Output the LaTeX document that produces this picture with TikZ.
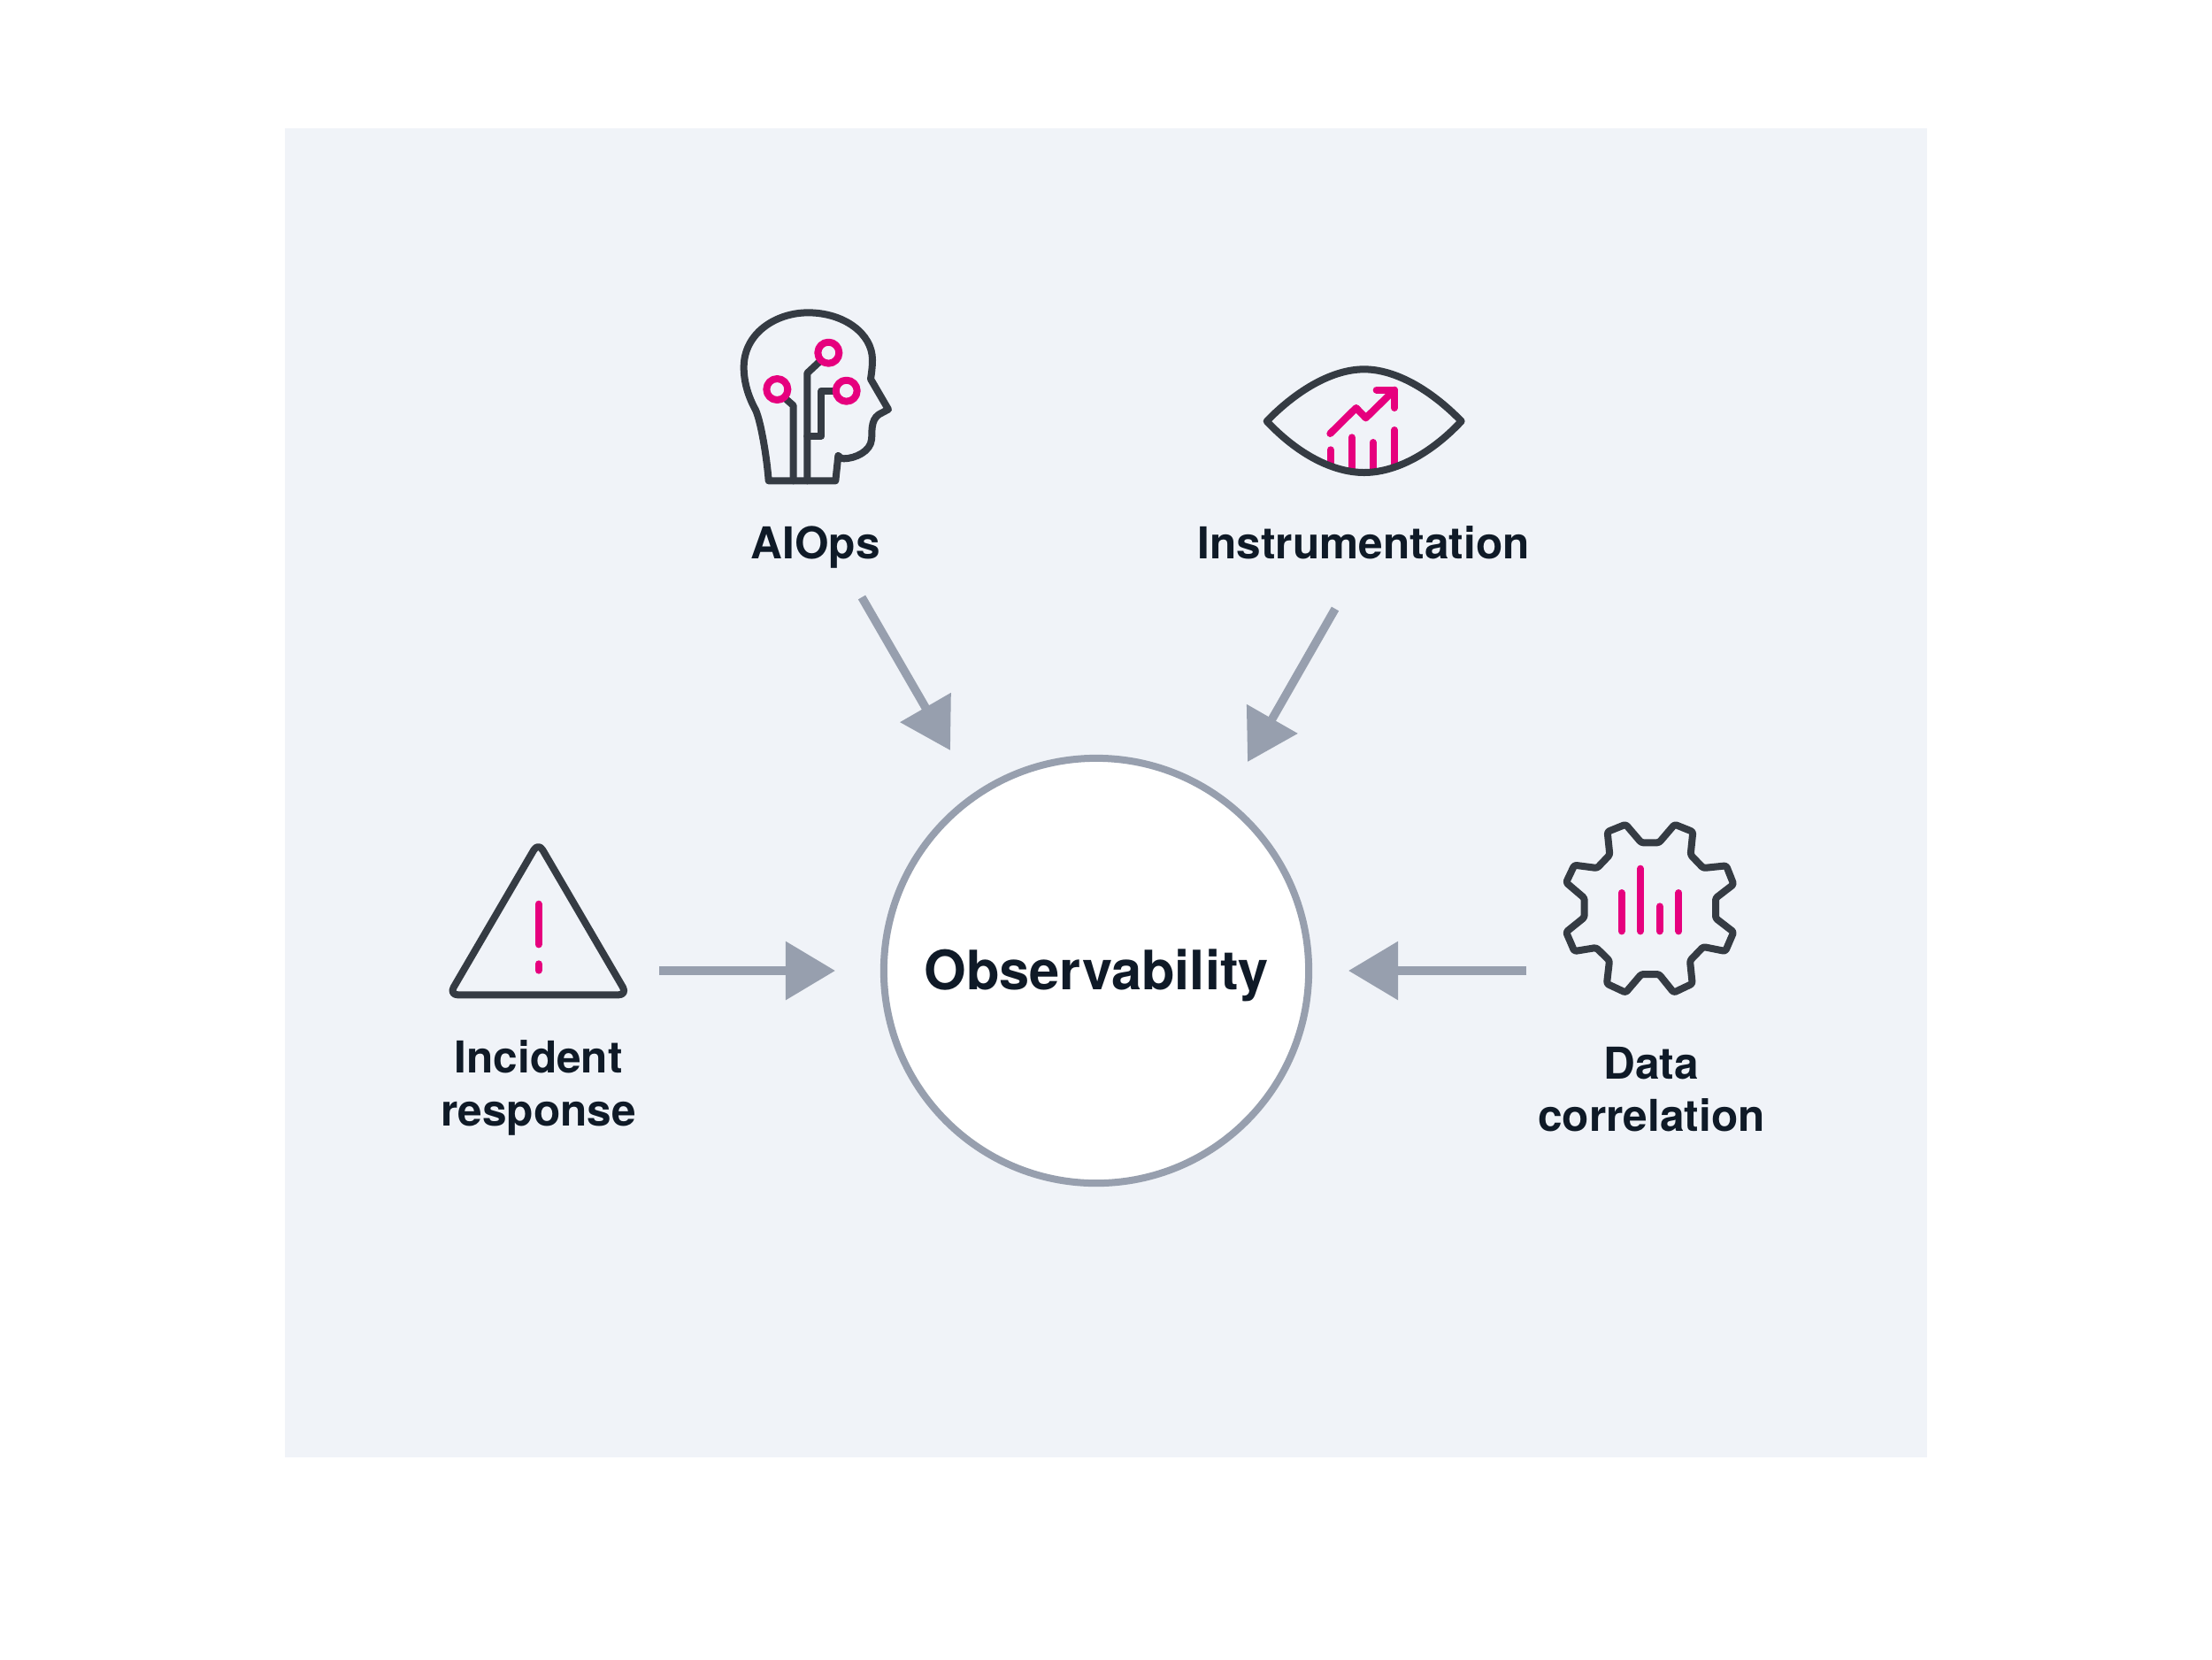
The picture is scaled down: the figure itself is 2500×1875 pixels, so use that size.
\documentclass[tikz,border=0pt]{standalone}
\usepackage{fontspec}
\setmainfont{TeX Gyre Heros}
\usepackage{xcolor}
\usetikzlibrary{
arrows.meta,
positioning
}
\definecolor{panelgrey}{HTML}{F0F3F8}
\definecolor{ringgrey}{HTML}{979FAE}
\definecolor{icondark}{HTML}{353B43}
\definecolor{iconpink}{HTML}{E6007E}
\definecolor{labeldark}{HTML}{0F1A27}
\tikzset{
  itemlabel/.style={font=\fontsize{14.1pt}{17pt}\selectfont\bfseries, text=labeldark, align=center, inner sep=0pt},
  iconline/.style={draw=icondark, line width=0.08cm, line join=round, line cap=round},
  pinkline/.style={draw=iconpink, line width=0.08cm, line join=round, line cap=round},
  feedarrow/.style={draw=ringgrey, line width=0.095cm, -{Triangle[length=0.56cm,width=0.64cm,fill=ringgrey]}}
}
\begin{document}
\begin{tikzpicture}[x=0.01cm,y=-0.01cm]
    \useasboundingbox (0,0) rectangle (2500,1875);
    \fill[panelgrey] (322,145) rectangle (2178,1647);
    \node [shape=circle, draw=ringgrey, fill=white, line width=0.08cm, minimum size=4.8cm, inner sep=0pt,
           font=\fontsize{17.45pt}{20pt}\selectfont\bfseries, text=labeldark, text height=15.9pt] (obs) at (1239,1097) {Observability};
    \node [itemlabel, on grid, above left = 4.78cm and 3.17cm of obs] (aiops) {AIOps};
    \node [itemlabel, on grid, above right = 4.83cm and 3.02cm of obs] (instr) {Instrumentation};
    \node [itemlabel, on grid, below left = 1.32cm and 6.30cm of obs] (incident) {Incident\\response};
    \node [itemlabel, on grid, below right = 1.34cm and 6.27cm of obs] (datacorr) {Data\\correlation};
    \coordinate (aiopstail) at (974,675);
    \coordinate (aiopstip) at (1074,848);
    \coordinate (instrtail) at (1509,688);
    \coordinate (instrtip) at (1410,861);
    \coordinate (incidenttail) at (745,1097);
    \coordinate (incidenttip) at (944,1097);
    \coordinate (datatail) at (1725,1097);
    \coordinate (datatip) at (1524,1097);
    \draw[feedarrow] (aiopstail) to (aiopstip);
    \draw[feedarrow] (instrtail) to (instrtip);
    \draw[feedarrow] (incidenttail) to (incidenttip);
    \draw[feedarrow] (datatail) to (datatip);
    % head
    \begin{scope}[shift={(780,320)},scale=1/3]
      \draw[iconline] (266,670) .. controls (260,590) and (240,470) .. (222,430)
        .. controls (200,390) and (182,340) .. (182,285)
        .. controls (182,170) and (290,100) .. (400,100)
        .. controls (520,100) and (618,170) .. (618,260)
        .. controls (618,285) and (615,305) .. (612,325)
        -- (672,428) -- (640,445)
        .. controls (610,465) and (618,510) .. (615,530)
        .. controls (612,570) and (560,595) .. (520,595)
        .. controls (512,595) and (506,590) .. (502,585)
        -- (493,670) -- cycle;
      \draw[iconline] (325,393) -- (350,415) -- (350,670);
      \draw[iconline] (397,670) -- (397,305) -- (440,265);
      \draw[iconline] (397,518) -- (445,518) -- (445,365) -- (490,365);
      \draw[pinkline] (295,360) circle (36);
      \draw[pinkline] (469,236) circle (36);
      \draw[pinkline] (530,365) circle (36);
    \end{scope}
    % eye
    \begin{scope}[shift={(1400,380)},scale=1/3]
      \draw[pinkline] (311,385) -- (311,435);
      \draw[pinkline] (383,343) -- (383,455);
      \draw[pinkline] (455,360) -- (455,455);
      \draw[pinkline] (528,318) -- (528,435);
      \draw[pinkline] (310,330) -- (398,243) -- (431,277) -- (528,182);
      \draw[pinkline] (467,182) -- (528,182) -- (528,243);
      \draw[iconline] (95,288) .. controls (200,180) and (320,112) .. (425,112)
        .. controls (530,112) and (650,180) .. (755,288)
        .. controls (650,400) and (530,462) .. (425,462)
        .. controls (320,462) and (200,400) .. (95,288) -- cycle;
    \end{scope}
    % warning triangle
    \begin{scope}[shift={(490,930)},scale=1/3]
      \draw[iconline, rounded corners=0.1cm] (355,66) -- (657,583) -- (53,583) -- cycle;
      \draw[pinkline] (356,275) -- (356,412);
      \draw[pinkline] (356,478) -- (356,500);
    \end{scope}
    % gear
    \begin{scope}[shift={(1750,910)},scale=1/3]
      \draw[iconline, rounded corners=0.025cm] (315,127) -- (375,127) -- (428,65) -- (490,90) -- (482,168)
        -- (525,213) -- (603,205) -- (628,268) -- (567,315) -- (567,383) -- (628,430) -- (600,495)
        -- (525,480) -- (480,527) -- (488,605) -- (425,635) -- (375,573) -- (315,573) -- (262,635)
        -- (198,605) -- (207,527) -- (162,483) -- (88,495) -- (60,430) -- (122,380) -- (122,315)
        -- (60,262) -- (88,203) -- (165,213) -- (208,168) -- (200,90) -- (262,65) -- cycle;
      \foreach \barx/\bartop in {248/297,312/215,377/343,442/297}
        \draw[pinkline] (\barx,\bartop) -- (\barx,427);
    \end{scope}
  \end{tikzpicture}
\end{document}
